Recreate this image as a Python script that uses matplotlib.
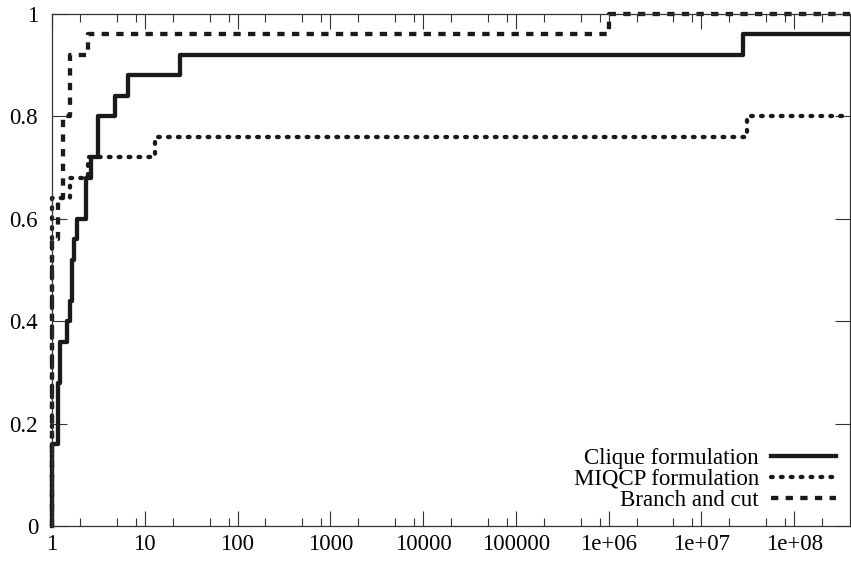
import matplotlib
matplotlib.use('Agg')
import matplotlib.pyplot as plt
from matplotlib.ticker import FixedLocator, NullFormatter

plt.rcParams['font.family'] = ['Liberation Serif', 'DejaVu Serif']

# performance profile data (ratio, fraction solved)
clique_x = [1, 1, 1.16, 1.22, 1.45, 1.56, 1.66, 1.72, 1.86, 2.32, 2.63, 3.13, 4.77, 6.6, 24, 2.8e7]
clique_y = [0, 0.16, 0.28, 0.36, 0.40, 0.44, 0.52, 0.56, 0.60, 0.68, 0.72, 0.80, 0.84, 0.88, 0.92, 0.96]

miqcp_x = [1, 1, 1.58, 2.45, 12.9, 3.1e7]
miqcp_y = [0, 0.64, 0.68, 0.72, 0.76, 0.80]

bc_x = [1, 1, 1.17, 1.31, 1.56, 2.44, 1e6]
bc_y = [0, 0.56, 0.64, 0.80, 0.92, 0.96, 1.0]

xmax = 4e8
xticks = [1, 10, 100, 1000, 10000, 100000, 1e6, 1e7, 1e8]
xlabels = ['1', '10', '100', '1000', '10000', '100000', '1e+06', '1e+07', '1e+08']
yticks = [0, 0.2, 0.4, 0.6, 0.8, 1]
ylabels = ['0', '0.2', '0.4', '0.6', '0.8', '1']

fig = plt.figure(figsize=(8.51, 5.62), dpi=100)
ax = fig.add_axes([52/851, 36/562, 798/851, 512/562])

lw = 3.1
ax.step(clique_x + [xmax], clique_y + [clique_y[-1]], where='post', color='#1a1a1a',
        lw=lw, clip_on=False, label='Clique formulation')
ax.step(miqcp_x + [xmax], miqcp_y + [miqcp_y[-1]], where='post', color='#1a1a1a',
        lw=lw, clip_on=False, dashes=(0.4, 1.9), dash_capstyle='round',
        label='MIQCP formulation')
ax.step(bc_x + [xmax], bc_y + [bc_y[-1]], where='post', color='#1a1a1a',
        lw=lw, clip_on=False, dashes=(1.7, 1.7), dash_capstyle='butt',
        label='Branch and cut')

ax.set_xscale('log')
ax.set_xlim(1, xmax)
ax.set_ylim(0, 1)

ax.xaxis.set_major_locator(FixedLocator(xticks))
ax.set_xticklabels(xlabels)
minors = [m * 10**d for d in range(0, 9) for m in (2, 5, 8)]
ax.xaxis.set_minor_locator(FixedLocator(minors))
ax.xaxis.set_minor_formatter(NullFormatter())
ax.set_yticks(yticks)
ax.set_yticklabels(ylabels)

ax.tick_params(which='both', direction='in', top=True, right=True, width=0.8,
               labelsize=16.5, color='#333333')
ax.tick_params(which='major', length=11)
ax.tick_params(which='minor', length=5.5)
ax.tick_params(axis='y', pad=10)
ax.tick_params(axis='x', pad=6)
for s in ax.spines.values():
    s.set_linewidth(0.9)
    s.set_color('#333333')

leg = ax.legend(loc='lower right', bbox_to_anchor=(0.982, 0.03), frameon=False,
                markerfirst=False, fontsize=16.5, handlelength=2.8,
                handletextpad=0.55, labelspacing=0.0, borderaxespad=0, borderpad=0)

fig.savefig('out.png', dpi=100)
